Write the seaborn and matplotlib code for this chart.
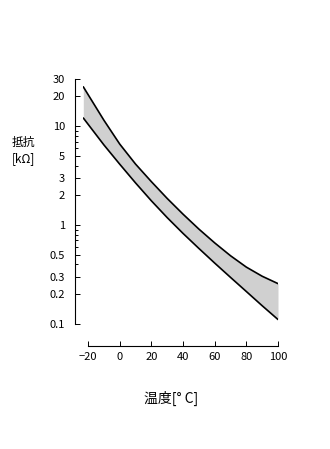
import numpy as np
import pandas as pd
import matplotlib
matplotlib.use("Agg")
import matplotlib.pyplot as plt
import seaborn as sns
from matplotlib.ticker import FixedLocator, NullFormatter

# ---- data ----
temperature = [-23, -10, 0, 10, 20, 30, 40, 50, 60, 70, 80, 90, 100]
upper_kohm = [25.0, 11.5, 6.6, 4.14, 2.75, 1.86, 1.29, 0.912, 0.661, 0.490, 0.376, 0.304, 0.256]
lower_kohm = [12.1, 6.47, 4.13, 2.67, 1.76, 1.19, 0.824, 0.581, 0.413, 0.296, 0.213, 0.153, 0.111]

y_ticks = [0.1, 0.2, 0.3, 0.5, 1, 2, 3, 5, 10, 20, 30]
y_tick_labels = ["0.1", "0.2", "0.3", "0.5", "1", "2", "3", "5", "10", "20", "30"]
y_minor_ticks = [0.4, 0.6, 0.7, 0.8, 0.9, 4, 6, 7, 8, 9]
x_ticks = [-20, 0, 20, 40, 60, 80, 100]
x_tick_labels = ["\u221220", "0", "20", "40", "60", "80", "100"]

y_title_1 = "抵抗"
y_title_2 = "[kΩ]"
x_title = "温度[° C]"

sns.set_theme(style="ticks")
plt.rcParams["font.family"] = ["Noto Sans CJK JP", "DejaVu Sans"]

W, H = 330, 449
fig = plt.figure(figsize=(W / 100, H / 100), dpi=100)
ax = fig.add_axes([83.3 / W, (H - 324) / H, (278 - 83.3) / W, 245 / H])

df = pd.DataFrame({"T": temperature, "upper": upper_kohm, "lower": lower_kohm})
ax.fill_between(df["T"], df["lower"], df["upper"], color="#d0d0d0", linewidth=0)
sns.lineplot(data=df, x="T", y="upper", ax=ax, color="black", linewidth=1.2)
sns.lineplot(data=df, x="T", y="lower", ax=ax, color="black", linewidth=1.2)

ax.set_yscale("log")
ax.set_xlim(-23, 100)
ax.set_ylim(0.1, 30)

ax.yaxis.set_major_locator(FixedLocator(y_ticks))
ax.set_yticklabels(y_tick_labels)
ax.yaxis.set_minor_locator(FixedLocator(y_minor_ticks))
ax.yaxis.set_minor_formatter(NullFormatter())
ax.set_xticks(x_ticks)
ax.set_xticklabels(x_tick_labels)

ax.set_xlabel("")
ax.set_ylabel("")

for s in ["top", "right"]:
    ax.spines[s].set_visible(False)
ax.spines["left"].set_position(("outward", 6.0))
ax.spines["bottom"].set_position(("outward", 16))
ax.spines["left"].set_bounds(0.1, 30)
ax.spines["bottom"].set_bounds(-20, 100)
for s in ["left", "bottom"]:
    ax.spines[s].set_linewidth(0.8)
    ax.spines[s].set_color("black")

ax.tick_params(axis="both", which="major", direction="in", length=3.5, width=0.7,
               labelsize=8, colors="black")
ax.tick_params(axis="y", which="minor", direction="in", length=2.5, width=0.7, color="black")
ax.tick_params(axis="y", which="major", pad=7)
ax.tick_params(axis="x", which="major", pad=4)
ax.set_facecolor("white")
ax.grid(False)

fig.text(12 / W, 1 - 142.5 / H, y_title_1, ha="left", va="center", fontsize=8.5, color="black")
fig.text(12 / W, 1 - 159 / H, y_title_2, ha="left", va="center", fontsize=8.5, color="black")
fig.text(171 / W, 1 - 398 / H, x_title, ha="center", va="center", fontsize=10, color="black")

fig.savefig("out.png", dpi=100, facecolor="white")
